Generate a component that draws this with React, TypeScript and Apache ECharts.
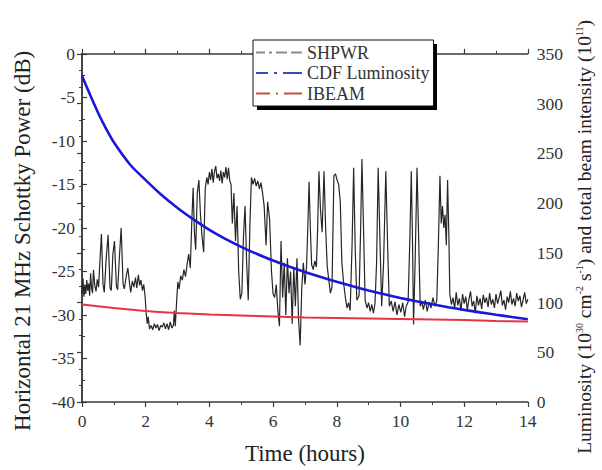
import React, { useEffect, useRef } from "react";
import * as echarts from "echarts";

const FONT = "'Liberation Serif', 'Times New Roman', 'DejaVu Serif', serif";

// SHPWR trace: [time (h), horizontal 21 MHz Schottky power (dB)]
const shpwrPoints: [number, number][] = [
  [0.0, -27.5], [0.03, -25.8], [0.06, -27.9], [0.09, -26.5], [0.12, -27.6], [0.15, -26.0], [0.18, -27.2],
  [0.21, -26.4], [0.24, -27.8], [0.27, -25.2], [0.3, -26.9], [0.33, -27.5], [0.36, -24.8], [0.4, -26.6],
  [0.44, -27.3], [0.48, -25.9], [0.52, -26.8], [0.56, -24.0], [0.61, -20.7], [0.66, -26.5], [0.7, -27.4],
  [0.76, -23.5], [0.82, -20.8], [0.88, -26.9], [0.92, -27.2], [0.97, -23.0], [1.02, -21.5], [1.08, -26.7],
  [1.12, -27.1], [1.18, -23.0], [1.23, -20.0], [1.29, -26.5], [1.33, -27.0], [1.39, -25.5], [1.44, -24.6],
  [1.49, -26.3], [1.53, -27.4], [1.58, -26.1], [1.63, -26.8], [1.68, -25.7], [1.72, -26.9], [1.77, -25.4],
  [1.81, -26.6], [1.85, -26.0], [1.9, -27.2], [1.94, -26.5], [1.98, -27.8], [2.02, -30.0], [2.05, -31.0],
  [2.08, -30.2], [2.12, -31.6], [2.17, -31.2], [2.22, -31.7], [2.27, -31.0], [2.32, -31.5], [2.37, -31.1],
  [2.42, -31.8], [2.47, -31.2], [2.52, -31.4], [2.57, -30.9], [2.62, -31.6], [2.67, -31.0], [2.72, -31.7],
  [2.77, -30.8], [2.82, -31.5], [2.87, -31.2], [2.9, -29.5], [2.93, -31.3], [2.97, -28.5], [3.01, -26.2],
  [3.05, -27.0], [3.1, -25.5], [3.15, -26.0], [3.2, -24.8], [3.25, -25.6], [3.3, -24.2], [3.35, -23.0],
  [3.4, -24.6], [3.45, -19.0], [3.49, -15.4], [3.53, -20.5], [3.57, -22.5], [3.62, -16.0], [3.67, -14.5],
  [3.72, -18.5], [3.77, -21.0], [3.82, -22.8], [3.87, -15.5], [3.92, -14.2], [3.96, -15.0], [4.0, -13.6],
  [4.04, -14.5], [4.08, -13.2], [4.12, -14.8], [4.16, -13.5], [4.2, -12.9], [4.24, -14.3], [4.28, -13.8],
  [4.32, -14.6], [4.36, -13.4], [4.4, -14.9], [4.44, -13.6], [4.48, -14.2], [4.52, -13.0], [4.56, -14.4],
  [4.6, -13.1], [4.64, -14.6], [4.68, -15.0], [4.72, -19.5], [4.77, -16.0], [4.82, -21.5], [4.87, -17.5],
  [4.92, -25.0], [4.97, -28.2], [5.02, -27.5], [5.07, -21.0], [5.12, -17.5], [5.17, -24.0], [5.22, -28.3],
  [5.27, -20.0], [5.32, -14.2], [5.37, -15.0], [5.42, -14.3], [5.47, -15.2], [5.52, -14.6], [5.57, -15.5],
  [5.62, -14.8], [5.67, -16.0], [5.72, -17.5], [5.78, -22.0], [5.83, -17.0], [5.89, -19.0], [5.95, -25.0],
  [6.0, -27.6], [6.05, -28.0], [6.1, -26.5], [6.15, -29.5], [6.2, -31.3], [6.25, -21.5], [6.3, -28.0],
  [6.35, -24.0], [6.4, -30.0], [6.45, -23.5], [6.5, -27.5], [6.55, -25.0], [6.6, -31.0], [6.65, -24.5],
  [6.7, -29.0], [6.75, -23.5], [6.8, -30.5], [6.85, -33.5], [6.9, -27.0], [6.95, -24.0], [7.0, -26.5],
  [7.05, -24.5], [7.09, -20.0], [7.13, -14.7], [7.17, -20.0], [7.21, -24.2], [7.26, -24.8], [7.31, -23.8],
  [7.36, -24.5], [7.4, -20.0], [7.44, -13.5], [7.49, -18.0], [7.54, -20.5], [7.6, -13.5], [7.65, -20.0],
  [7.7, -24.4], [7.75, -26.0], [7.8, -27.5], [7.85, -26.8], [7.91, -14.0], [7.96, -13.8], [8.01, -14.5],
  [8.06, -15.0], [8.11, -17.0], [8.16, -24.0], [8.22, -26.5], [8.27, -28.0], [8.32, -29.2], [8.37, -28.6],
  [8.42, -29.5], [8.48, -22.0], [8.53, -13.1], [8.58, -22.5], [8.63, -28.3], [8.7, -27.8], [8.75, -20.0],
  [8.79, -12.1], [8.84, -20.0], [8.89, -28.3], [8.95, -29.2], [9.0, -28.6], [9.05, -29.6], [9.1, -28.8],
  [9.15, -29.8], [9.2, -28.7], [9.25, -24.0], [9.3, -13.1], [9.36, -22.0], [9.41, -29.0], [9.47, -24.0],
  [9.54, -13.5], [9.6, -22.5], [9.65, -29.0], [9.71, -28.4], [9.77, -29.6], [9.83, -28.5], [9.89, -30.0],
  [9.95, -28.8], [10.01, -29.7], [10.07, -28.6], [10.13, -30.2], [10.18, -29.0], [10.24, -28.5],
  [10.29, -22.0], [10.34, -13.5], [10.38, -22.0], [10.41, -31.1], [10.46, -24.0], [10.52, -13.1],
  [10.57, -21.0], [10.62, -29.0], [10.67, -28.4], [10.72, -29.4], [10.78, -28.3], [10.84, -29.6],
  [10.9, -28.5], [10.96, -29.2], [11.02, -28.0], [11.08, -29.0], [11.14, -28.4], [11.19, -22.0],
  [11.24, -14.0], [11.28, -19.5], [11.32, -17.5], [11.36, -20.0], [11.4, -18.5], [11.44, -22.0],
  [11.48, -14.5], [11.52, -21.0], [11.55, -27.6], [11.6, -28.8], [11.65, -28.0], [11.7, -29.3],
  [11.75, -27.4], [11.8, -28.9], [11.85, -28.1], [11.9, -29.5], [11.95, -27.6], [12.0, -28.7],
  [12.05, -27.9], [12.1, -29.4], [12.15, -28.2], [12.2, -27.3], [12.25, -29.0], [12.3, -28.4],
  [12.35, -29.8], [12.4, -27.8], [12.45, -28.9], [12.5, -28.1], [12.55, -29.3], [12.6, -27.7],
  [12.65, -28.6], [12.7, -28.0], [12.75, -29.1], [12.8, -27.5], [12.85, -28.8], [12.9, -28.2],
  [12.95, -29.2], [13.0, -27.6], [13.05, -28.7], [13.1, -28.0], [13.15, -27.2], [13.2, -28.9],
  [13.25, -28.3], [13.3, -29.4], [13.35, -27.9], [13.4, -28.6], [13.45, -27.3], [13.5, -28.8],
  [13.55, -28.1], [13.6, -29.0], [13.65, -27.5], [13.7, -28.4], [13.75, -27.8], [13.8, -29.1],
  [13.85, -28.3], [13.9, -27.4], [13.95, -28.7], [14.0, -28.2],
];

// CDF luminosity (10^30 cm^-2 s^-1), right axis
const lumTime = [0, 0.25, 0.5, 0.75, 1, 1.5, 2, 2.5, 3, 3.5, 4, 4.5, 5, 5.5, 6, 6.5, 7, 7.5, 8, 8.5, 9, 9.5, 10, 10.5, 11, 11.5, 12, 12.5, 13, 13.5, 14];
const lumValue = [328, 309, 291, 275, 261, 239, 223, 208, 195, 183.5, 173, 164, 156, 148.7, 142.2, 136.2, 130.7, 125.6, 120.8, 116.3, 112.1, 108.2, 104.6, 101.3, 98.2, 95.3, 92.6, 90.1, 87.7, 85.4, 83.2];

// IBEAM total beam intensity (10^11), right axis
const ibeamTime = [0, 1, 2, 3, 4, 5, 6, 7, 8, 9, 10, 11, 12, 13, 14];
const ibeamValue = [98, 94.5, 91.5, 89.5, 88, 87, 86, 85, 84.5, 84, 83.5, 83, 82.5, 81.5, 80.8];

const seriesNames = ["SHPWR", "CDF Luminosity", "IBEAM"];
const seriesColors = ["#262626", "#1818d8", "#e8333f"];
const legendIconColors = ["#8a8a8a", "#3a4ab8", "#c8503a"];

const AXIS_COLOR = "#3a3a3a";
const LABEL_COLOR = "#333";

export default function App() {
  const ref = useRef<HTMLDivElement>(null);

  useEffect(() => {
    if (!ref.current) return;
    const chart = echarts.init(ref.current, undefined, { renderer: "svg" });

    const xAxisBase = {
      type: "value" as const,
      min: 0,
      max: 14,
      interval: 2,
      axisLine: { show: true, lineStyle: { color: AXIS_COLOR, width: 1.5 } },
      axisTick: { show: true, inside: true, length: 5, lineStyle: { color: AXIS_COLOR, width: 1.2 } },
      minorTick: { show: true, splitNumber: 2, length: 3, lineStyle: { color: AXIS_COLOR, width: 1 } },
      splitLine: { show: false },
      minorSplitLine: { show: false },
    };

    const option = {
      animation: false,
      backgroundColor: "#fff",
      textStyle: { fontFamily: FONT },
      grid: { left: 82, right: 69, top: 26, bottom: 66, containLabel: false },
      legend: {
        left: 253,
        top: 40,
        orient: "vertical",
        selectedMode: false,
        itemWidth: 46,
        itemHeight: 2,
        itemGap: 1.5,
        padding: [3, 4, 3, 3],
        backgroundColor: "#fff",
        borderColor: "#111",
        borderWidth: 1,
        textStyle: { fontFamily: FONT, fontSize: 18, color: LABEL_COLOR, lineHeight: 19 },
        data: [
          { name: seriesNames[0], icon: "path://M0,0H9V2H0Z M13,0H16V2H13Z M20,0H31V2H20Z M35,0H46V2H35Z", itemStyle: { color: legendIconColors[0] } },
          { name: seriesNames[1], icon: "path://M0,0H12V2H0Z M18,0H21V2H18Z M27,0H46V2H27Z", itemStyle: { color: legendIconColors[1] } },
          { name: seriesNames[2], icon: "path://M0,0H14V2H0Z M20,0H22V2H20Z M28,0H46V2H28Z", itemStyle: { color: legendIconColors[2] } },
        ],
      },
      graphic: [
        {
          type: "rect",
          z: 3,
          shape: { x: 257, y: 44, width: 180, height: 66 },
          style: { fill: "#000" },
          silent: true,
        },
      ],
      xAxis: [
        {
          ...xAxisBase,
          position: "bottom",
          axisLabel: { show: true, margin: 10, fontFamily: FONT, fontSize: 17.5, color: LABEL_COLOR },
          name: "Time (hours)",
          nameLocation: "middle",
          nameGap: 40,
          nameTextStyle: { fontFamily: FONT, fontSize: 23, color: "#222" },
        },
        {
          ...xAxisBase,
          position: "top",
          axisLabel: { show: false },
        },
      ],
      yAxis: [
        {
          type: "value",
          position: "left",
          min: -40,
          max: 0,
          interval: 5,
          axisLine: { show: true, lineStyle: { color: AXIS_COLOR, width: 1.5 } },
          axisTick: { show: true, inside: true, length: 5, lineStyle: { color: AXIS_COLOR, width: 1.2 } },
          minorTick: { show: true, splitNumber: 2, length: 3, lineStyle: { color: AXIS_COLOR, width: 1 } },
          splitLine: { show: false },
          axisLabel: { margin: 7, fontFamily: FONT, fontSize: 17.5, color: LABEL_COLOR },
          name: "Horizontal 21 MHz Schottky Power (dB)",
          nameLocation: "middle",
          nameRotate: 90,
          nameGap: 48,
          nameTextStyle: { fontFamily: FONT, fontSize: 23, color: "#222", padding: [0, 26, 0, 0] },
        },
        {
          type: "value",
          position: "right",
          min: 0,
          max: 350,
          interval: 50,
          axisLine: { show: true, lineStyle: { color: AXIS_COLOR, width: 1.5 } },
          axisTick: { show: true, inside: true, length: 5, lineStyle: { color: AXIS_COLOR, width: 1.2 } },
          minorTick: { show: true, splitNumber: 3, length: 3, lineStyle: { color: AXIS_COLOR, width: 1 } },
          splitLine: { show: false },
          axisLabel: { margin: 9, fontFamily: FONT, fontSize: 17.5, color: LABEL_COLOR },
          name: "Luminosity (10{s|30} cm{s|-2} s{s|-1}) and total beam intensity (10{s|11})",
          nameLocation: "middle",
          nameRotate: 90,
          nameGap: 46,
          nameTextStyle: {
            fontFamily: FONT,
            fontSize: 19.5,
            lineHeight: 20,
            color: "#222",
            padding: [0, 18, 0, 0],
            rich: {
              s: { fontFamily: FONT, fontSize: 10, lineHeight: 10, verticalAlign: "top", color: "#222" },
            },
          },
        },
      ],
      series: [
        {
          name: seriesNames[0],
          type: "line",
          xAxisIndex: 0,
          yAxisIndex: 0,
          data: shpwrPoints,
          showSymbol: false,
          color: seriesColors[0],
          lineStyle: { color: seriesColors[0], width: 1.2 },
          z: 2,
        },
        {
          name: seriesNames[1],
          type: "line",
          xAxisIndex: 0,
          yAxisIndex: 1,
          data: lumTime.map((t, i) => [t, lumValue[i]]),
          showSymbol: false,
          smooth: 0.3,
          color: seriesColors[1],
          lineStyle: { color: seriesColors[1], width: 2.6 },
          z: 3,
        },
        {
          name: seriesNames[2],
          type: "line",
          xAxisIndex: 0,
          yAxisIndex: 1,
          data: ibeamTime.map((t, i) => [t, ibeamValue[i]]),
          showSymbol: false,
          smooth: 0.3,
          color: seriesColors[2],
          lineStyle: { color: seriesColors[2], width: 2 },
          z: 3,
        },
      ],
    };

    chart.setOption(option as any);
    return () => chart.dispose();
  }, []);

  return (
    <div
      ref={ref}
      style={{ position: "fixed", left: 0, top: 0, width: 602, height: 470, background: "#fff" }}
    />
  );
}
